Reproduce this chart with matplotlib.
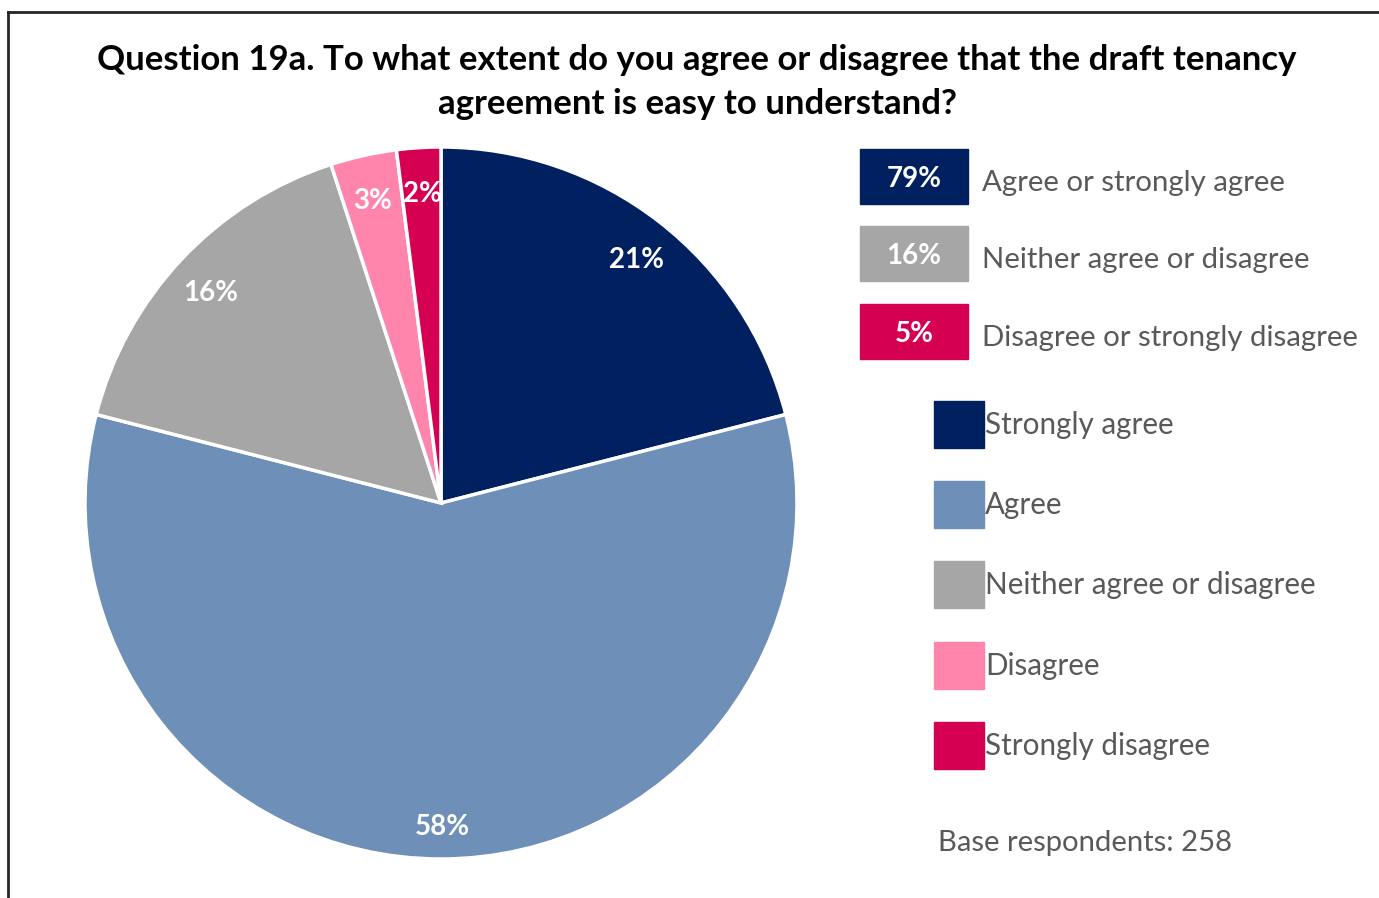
import matplotlib.pyplot as plt
from matplotlib.patches import Rectangle
from matplotlib.lines import Line2D
from matplotlib.transforms import offset_copy

plt.rcParams['font.family'] = ['Lato', 'DejaVu Sans']

W, H = 1379, 898

title = ("Question 19a. To what extent do you agree or disagree that the draft tenancy\n"
         "agreement is easy to understand?")

categories = ["Strongly agree", "Agree", "Neither agree or disagree",
              "Disagree", "Strongly disagree"]
values = [21, 58, 16, 3, 2]
colors = ["#002060", "#6D8FB8", "#A6A6A6", "#FF85AD", "#D50052"]

summary_labels = ["Agree or strongly agree", "Neither agree or disagree",
                  "Disagree or strongly disagree"]
summary_values = [79, 16, 5]
summary_colors = ["#002060", "#A6A6A6", "#D50052"]

base_note = "Base respondents: 258"
text_grey = "#595959"


def fx(px):
    return px / W


def fy(py):
    return 1 - py / H


fig = plt.figure(figsize=(W / 100, H / 100), dpi=100)

# pie
cx, cy, r = 441, 503, 356
ax = fig.add_axes([fx(cx - r), fy(cy + r), 2 * r / W, 2 * r / H])
wedges, _, autotexts = ax.pie(values, colors=colors, startangle=90, counterclock=False,
                              autopct=lambda p: f"{p:.0f}%", pctdistance=0.89,
                              wedgeprops=dict(edgecolor="white", linewidth=2.5))
for t in autotexts:
    t.set_color("white")
    t.set_fontweight("bold")
    t.set_fontsize(20)
    # nudge down a little so the digits sit like the reference
    t.set_transform(offset_copy(t.get_transform(), fig=fig, x=1, y=-7, units="dots"))
ax.set_xlim(-1.0, 1.0)
ax.set_ylim(-1.0, 1.0)
ax.set_aspect("equal")

# title
fig.text(fx(697), fy(82), title, ha="center", va="center", fontsize=25,
         fontweight="bold", color="black", linespacing=1.45)

# summary boxes
box_tops = [149, 226, 304]
for top, val, lab, col in zip(box_tops, summary_values, summary_labels, summary_colors):
    fig.patches.append(Rectangle((fx(860), fy(top + 55)), fx(108), 55 / H,
                                 transform=fig.transFigure, color=col))
    fig.text(fx(914), fy(top + 30), f"{val}%", ha="center", va="center",
             fontsize=20, fontweight="bold", color="white")
    fig.text(fx(982), fy(top + 34), lab, ha="left", va="center",
             fontsize=21.2, color=text_grey)

# category legend
leg_centers = [425, 505, 585, 666, 746]
for yc, lab, col in zip(leg_centers, categories, colors):
    fig.patches.append(Rectangle((fx(934), fy(yc + 23)), fx(50), 47 / H,
                                 transform=fig.transFigure, color=col))
    fig.text(fx(985), fy(yc), lab, ha="left", va="center",
             fontsize=21.3, color=text_grey)

fig.text(fx(938), fy(843), base_note, ha="left", va="center",
         fontsize=21.1, color=text_grey)

# frame (left and top edges visible)
fig.add_artist(Line2D([fx(8), fx(8)], [fy(898), fy(12)], color="#262626", lw=2))
fig.add_artist(Line2D([fx(8), fx(1379)], [fy(12), fy(12)], color="#262626", lw=2))

fig.savefig("out.png", dpi=100)
